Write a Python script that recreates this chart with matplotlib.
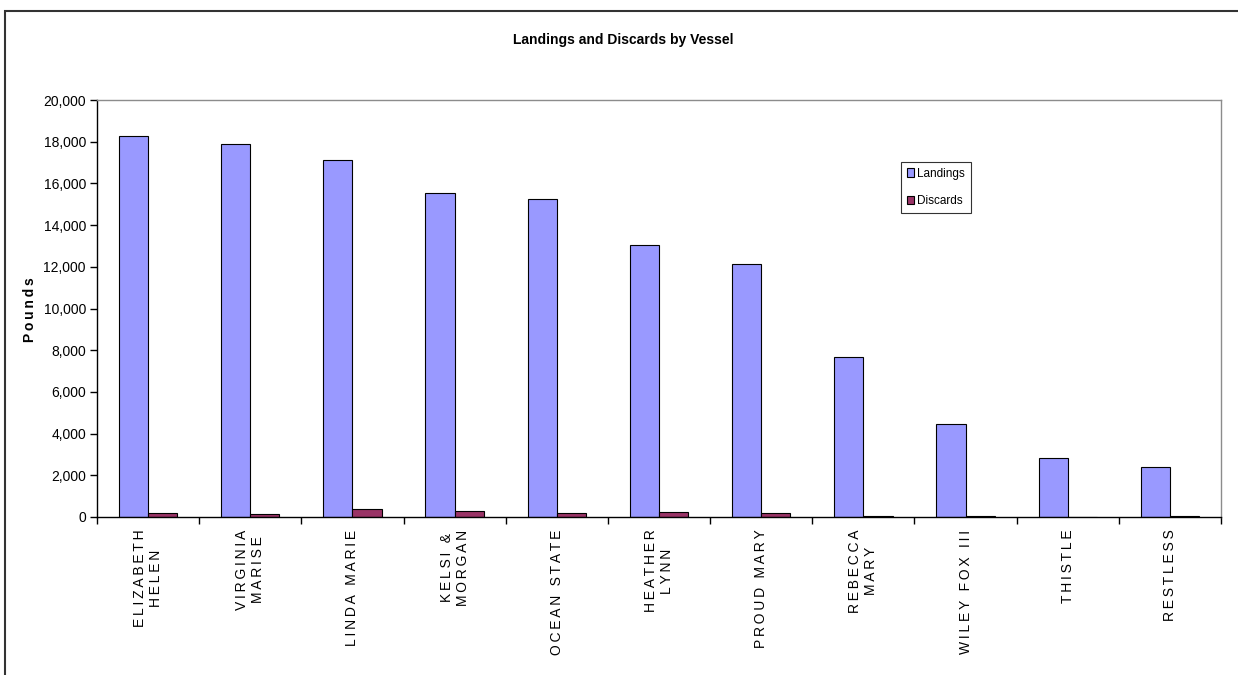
import numpy as np
import matplotlib.pyplot as plt
from matplotlib.patches import Rectangle

plt.rcParams['font.family'] = ['Liberation Sans', 'DejaVu Sans']

vessels = ['ELIZABETH\nHELEN', 'VIRGINIA\nMARISE', 'LINDA MARIE', 'KELSI &\nMORGAN',
           'OCEAN STATE', 'HEATHER\nLYNN', 'PROUD MARY', 'REBECCA\nMARY',
           'WILEY FOX III', 'THISTLE', 'RESTLESS']
landings = [18280, 17900, 17100, 15520, 15270, 13060, 12130, 7650, 4460, 2840, 2410]
discards = [170, 125, 375, 290, 175, 240, 175, 55, 40, 0, 40]
yticks = list(range(0, 20001, 2000))


def spaced(s):
    # widen letter spacing like the spreadsheet labels
    return '\n'.join('\u2009'.join(line) for line in s.split('\n'))


fig = plt.figure(figsize=(12.38, 6.75), dpi=100)
ax = fig.add_axes([97/1238, 1-517/675, (1221-97)/1238, (517-100)/675])

x = np.arange(len(vessels))
w = 1/3.5
ax.bar(x - w/2, landings, w, color='#9999FF', edgecolor='black', linewidth=0.8, label='Landings')
ax.bar(x + w/2, discards, w, color='#993366', edgecolor='black', linewidth=0.8, label='Discards')

ax.set_xlim(-0.5, len(vessels) - 0.5)
ax.set_ylim(0, 20000)
ax.set_yticks(yticks)
ax.set_yticklabels([f'{v:,}' for v in yticks], fontsize=10)
ax.tick_params(axis='y', direction='out', length=5, width=1, pad=3)

# tick marks sit between categories, labels at the centres
ax.set_xticks(np.arange(len(vessels) + 1) - 0.5)
ax.set_xticklabels([])
ax.tick_params(axis='x', which='major', direction='out', length=5, width=1)
ax.set_xticks(x, minor=True)
ax.set_xticklabels([spaced(v) for v in vessels], minor=True, rotation=90,
                   fontsize=10, multialignment='center')
ax.tick_params(axis='x', which='minor', length=0, pad=9)

for s in ['left', 'bottom']:
    ax.spines[s].set_color('black')
    ax.spines[s].set_linewidth(1)
for s in ['top', 'right']:
    ax.spines[s].set_color('#8c8c8c')
    ax.spines[s].set_linewidth(1)

leg = ax.legend(loc='upper left', bbox_to_anchor=(0.715, 0.852), borderaxespad=0,
                fontsize=8.5, frameon=True, fancybox=False, handlelength=0.6,
                handleheight=0.7, handletextpad=0.3, labelspacing=1.3, borderpad=0.5)
leg.get_frame().set_edgecolor('black')
leg.get_frame().set_linewidth(0.8)

fig.text(623/1238, 1-40/675, 'Landings and Discards by Vessel', ha='center', va='center',
         fontsize=10, fontweight='bold')
fig.text(30/1238, 1-310/675, spaced('Pounds'), ha='center', va='center', rotation=90,
         fontsize=10, fontweight='bold')

# outer chart border
fig.patches.append(Rectangle((4.5/1238, -0.05), 1.1, 1.05 - 10.5/675, transform=fig.transFigure,
                             fill=False, edgecolor='#333333', linewidth=1.5, clip_on=False))

fig.savefig('out.png', dpi=100)
